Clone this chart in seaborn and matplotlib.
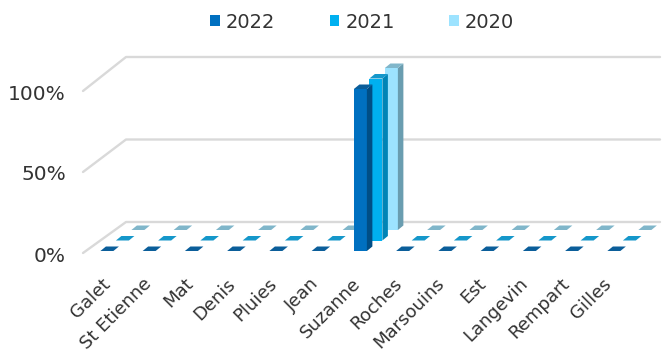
import matplotlib
matplotlib.use("Agg")
import matplotlib.pyplot as plt
from matplotlib import transforms as mtransforms
from matplotlib.patches import Polygon, Patch
from matplotlib.lines import Line2D
import seaborn as sns

categories = ["Galet", "St Etienne", "Mat", "Denis", "Pluies", "Jean", "Suzanne",
              "Roches", "Marsouins", "Est", "Langevin", "Rempart", "Gilles"]
series_names = ["2022", "2021", "2020"]
values_2022 = [0, 0, 0, 0, 0, 0, 100, 0, 0, 0, 0, 0, 0]
values_2021 = [0, 0, 0, 0, 0, 0, 100, 0, 0, 0, 0, 0, 0]
values_2020 = [0, 0, 0, 0, 0, 0, 100, 0, 0, 0, 0, 0, 0]
y_ticks = [0, 50, 100]
y_tick_labels = ["0%", "50%", "100%"]

sns.set_theme(style="white")
plt.rcParams["font.family"] = ["DejaVu Sans"]
TXT = "#333333"

W, H = 670, 351
fig = plt.figure(figsize=(W / 100, H / 100), dpi=100)
ax = fig.add_axes([88 / W, (H - 252) / H, 534 / W, 162 / H])
ax.patch.set_visible(False)

front_cols = {"2022": "#0070C0", "2021": "#00B0F0", "2020": "#9DE3FF"}
side_cols = {"2022": "#004E86", "2021": "#0084B6", "2020": "#6A9DB0"}
top_cols = {"2022": "#0B5E9A", "2021": "#1597CA", "2020": "#80B6CA"}
values = {"2022": values_2022, "2021": values_2021, "2020": values_2020}
row_offsets = {"2022": (2, 1), "2021": (17.5, 11.5), "2020": (33, 22)}
depth = (5.5, 4.5)

bar_width = 13 / 42.25
drawn = []
for k, name in enumerate(["2020", "2021", "2022"]):
    n0 = len(ax.patches)
    sns.barplot(x=categories, y=values[name], color=front_cols[name], saturation=1,
                width=bar_width, linewidth=0, ax=ax)
    new = ax.patches[n0:]
    dx, dy = row_offsets[name]
    tr = mtransforms.offset_copy(ax.transData, fig=fig, x=dx, y=dy, units="dots")
    for p in new:
        p.set_transform(tr)
        p.set_zorder(3 + k)
        p.set_edgecolor("none")
        p.set_clip_on(False)
    drawn.append((name, k, new))

ax.set_xlim(-0.4, 12.24)
ax.set_ylim(0, 100)
ax.set_xlabel("")
ax.set_ylabel("")

ident = mtransforms.IdentityTransform()
for name, k, new in drawn:
    dx, dy = row_offsets[name]
    for p in new:
        x0, w, h = p.get_x(), p.get_width(), p.get_height()
        X0, Y0 = ax.transData.transform((x0, 0))
        X1, Y1 = ax.transData.transform((x0 + w, h))
        X0 += dx; X1 += dx; Y0 += dy; Y1 += dy
        ddx, ddy = depth
        if h > 0:
            side = Polygon([(X1, Y0), (X1 + ddx, Y0 + ddy), (X1 + ddx, Y1 + ddy), (X1, Y1)],
                           closed=True, transform=ident, facecolor=side_cols[name],
                           edgecolor="none", zorder=3 + k, clip_on=False)
            ax.add_artist(side)
        top = Polygon([(X0, Y1), (X1, Y1), (X1 + ddx, Y1 + ddy), (X0 + ddx, Y1 + ddy)],
                      closed=True, transform=ident, facecolor=top_cols[name],
                      edgecolor="none", zorder=3 + k, clip_on=False)
        ax.add_artist(top)

# side wall and back wall gridlines
xl0, xl1 = ax.get_xlim()
for v in y_ticks:
    FX, FY = ax.transData.transform((xl0, v))
    RX, RY = ax.transData.transform((xl1, v))
    wdy = 30 + 0.03 * v
    ln = Line2D([FX - 5, FX + 38, RX + 38], [FY - 1, FY + wdy, RY + wdy],
                transform=ident, color="#D9D9D9", lw=1.7, zorder=1, clip_on=False)
    ax.add_artist(ln)

ax.set_yticks(y_ticks)
ax.set_yticklabels(y_tick_labels, fontsize=14.5, color=TXT)
ax.set_xticks(range(len(categories)))
ax.set_xticklabels(categories, fontsize=13, color=TXT, rotation=45,
                   ha="right", rotation_mode="anchor")
ax.tick_params(axis="y", length=0, pad=15.8)
ax.tick_params(axis="x", length=0, pad=16.3)
for i, lab in enumerate(ax.get_xticklabels()):
    xs = mtransforms.ScaledTranslation((-4 - 0.5 * i) / 100, 0, fig.dpi_scale_trans)
    lab.set_transform(lab.get_transform() + xs)
yshift = mtransforms.ScaledTranslation(0, -2 / 100, fig.dpi_scale_trans)
for lab in ax.get_yticklabels():
    lab.set_transform(lab.get_transform() + yshift)
for s in ax.spines.values():
    s.set_visible(False)
ax.grid(False)

handles = [Patch(facecolor=front_cols[n], edgecolor="none") for n in series_names]
fig.legend(handles, series_names, loc="center", bbox_to_anchor=(362 / W, 1 - 22 / H),
           ncol=3, frameon=False, fontsize=14, handlelength=0.5, handleheight=0.55,
           handletextpad=0.3, columnspacing=2.8, labelcolor=TXT)

fig.savefig("out.png", dpi=100)
